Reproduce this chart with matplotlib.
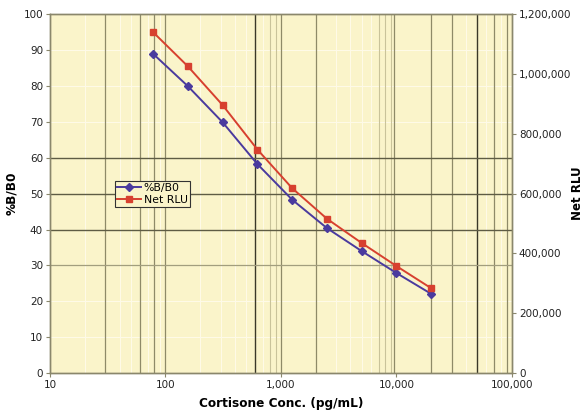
import matplotlib.pyplot as plt
from matplotlib.ticker import FixedLocator, FuncFormatter, NullFormatter

# standard curve data
conc = [78, 156, 313, 625, 1250, 2500, 5000, 10000, 20000]
pct_b_b0 = [88.9, 79.9, 69.8, 58.2, 48.3, 40.4, 34.0, 27.9, 22.1]
net_rlu = [1139000, 1025000, 895000, 747000, 618000, 516000, 435000, 358000, 284000]

x_ticks = [10, 100, 1000, 10000, 100000]
y_ticks = list(range(0, 101, 10))
rlu_ticks = [0, 200000, 400000, 600000, 800000, 1000000, 1200000]

# odd scanned-paper grid lines
dark_vlines = [600, 50000]
mid_vlines = [30, 60, 80, 100, 1000, 2000, 9500, 20000, 30000, 70000, 90000]
light_vlines = [800, 900, 7000, 8000, 9000]
dark_hlines = [40, 50, 60]
mid_hlines = [30]

bg = "#faf4ca"
purple = "#4a3a9e"
red = "#d7402f"

fig = plt.figure(figsize=(5.84, 4.19), dpi=100)
ax = fig.add_axes([0.0856, 0.109, 0.791, 0.858])
ax.set_facecolor(bg)
ax.set_xscale("log")
ax.set_xlim(10, 100000)
ax.set_ylim(0, 100)

# faint minor grid
for d in [10, 100, 1000, 10000]:
    for m in range(2, 10):
        ax.axvline(d * m, color="#fffbe8", lw=0.7, zorder=0.5)
for y in y_ticks:
    ax.axhline(y, color="#fffbe8", lw=0.7, zorder=0.5)

for v in light_vlines:
    ax.axvline(v, color="#c9c39a", lw=0.8, zorder=1)
for v in mid_vlines:
    ax.axvline(v, color="#8e8a68", lw=0.9, zorder=1)
for v in dark_vlines:
    ax.axvline(v, color="#3a3828", lw=1.0, zorder=1)
for h in mid_hlines:
    ax.axhline(h, color="#a29e7e", lw=0.9, zorder=1)
for h in dark_hlines:
    ax.axhline(h, color="#5e5c44", lw=1.0, zorder=1)

ax.xaxis.set_major_locator(FixedLocator(x_ticks))
ax.xaxis.set_minor_formatter(NullFormatter())
ax.xaxis.set_major_formatter(FuncFormatter(lambda v, p: f"{int(v):,}"))
ax.tick_params(axis="x", which="minor", length=0)
ax.set_yticks(y_ticks)

ax2 = ax.twinx()
ax2.set_ylim(0, 1200000)
ax2.set_yticks(rlu_ticks)
ax2.yaxis.set_major_formatter(FuncFormatter(lambda v, p: f"{int(v):,}"))

l1, = ax2.plot(conc, [p * 12000 for p in pct_b_b0], color=purple, lw=1.4,
               marker="D", ms=4.5, label="%B/B0", zorder=3)
l2, = ax2.plot(conc, net_rlu, color=red, lw=1.4, marker="s", ms=4.5,
               label="Net RLU", zorder=3)

for a in (ax, ax2):
    for s in a.spines.values():
        s.set_color("#8a876c")
        s.set_linewidth(1.0)
    a.tick_params(labelsize=7.5, length=3, width=0.8, color="#8a876c",
                  pad=2, labelcolor="#222222")

ax.set_xlabel("Cortisone Conc. (pg/mL)", fontsize=8.7, fontweight="bold", labelpad=5)
ax.set_ylabel("%B/B0", fontsize=8.7, fontweight="bold", labelpad=4)
ax2.set_ylabel("Net RLU", fontsize=8.5, fontweight="bold")
ax2.yaxis.set_label_coords(1.128, 0.5)

leg = ax2.legend(handles=[l1, l2], loc="upper left", bbox_to_anchor=(0.141, 0.535),
                 fontsize=7.8, frameon=True, fancybox=False, borderpad=0.2,
                 handlelength=2.2, handletextpad=0.25, labelspacing=0.15,
                 borderaxespad=0)
leg.get_frame().set_facecolor(bg)
leg.get_frame().set_edgecolor("#333333")
leg.get_frame().set_linewidth(0.8)
leg.get_frame().set_alpha(1)

fig.savefig("out.png", dpi=100)
